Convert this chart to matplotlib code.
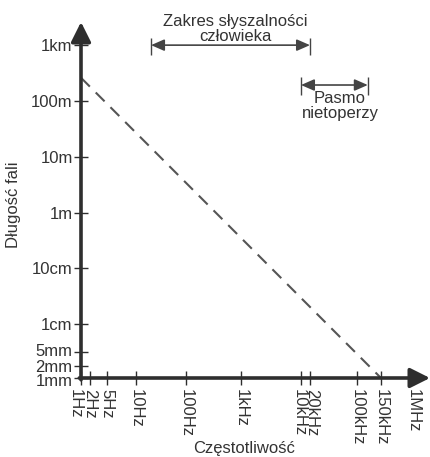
import numpy as np
import matplotlib
matplotlib.use("Agg")
import matplotlib.pyplot as plt
from matplotlib.transforms import ScaledTranslation

plt.rcParams["font.family"] = ["Liberation Sans", "DejaVu Sans"]
plt.rcParams["font.size"] = 12

# frequency axis [Hz]
freq_ticks = [1, 2, 5, 10, 100, 1e3, 1e4, 2e4, 1e5, 1.5e5, 1e6]
freq_labels = ["1Hz", "2Hz", "5Hz", "10Hz", "100Hz", "1kHz",
               "10kHz", "20kHz", "100kHz", "150kHz", "1MHz"]

# wavelength axis [m]
wl_ticks = [1e-3, 2e-3, 5e-3, 1e-2, 1e-1, 1, 10, 100, 1000]
wl_labels = ["1mm", "2mm", "5mm", "1cm", "10cm", "1m", "10m", "100m", "1km"]

# dashed line (sound in air)
line_freq = [1, 1.5e5]
line_wl = [260, 1e-3]

# ranges [Hz]
human_range = [20, 2e4]
bat_range = [1e4, 1.2e5]

AX = "#2e2e2e"
TXT = "#333333"

# the original is drawn by hand, decades are not evenly spaced:
# log10(value) -> pixels along the axis
X_CAL_LOG = [-1, 0, 0.301, 0.699, 1, 2, 3, 4, 4.301, 5, 5.176, 6, 7]
X_CAL_PX = [-55, 0, 9, 26, 55, 105, 160, 220, 229, 276, 300, 332, 390]
Y_CAL_LOG = [-4, -3, -2.699, -2.301, -2, -1, 0, 1, 2, 3, 4]
Y_CAL_PX = [-56, 0, 12, 26, 54, 110, 165, 221, 277, 333, 389]


def make_scale(logs, px):
    def fwd(v):
        v = np.asarray(v, dtype=float)
        return np.interp(np.log10(np.clip(v, 1e-12, None)), logs, px)

    def inv(p):
        return 10 ** np.interp(np.asarray(p, dtype=float), px, logs)
    return fwd, inv


xf, xi = make_scale(X_CAL_LOG, X_CAL_PX)
yf, yi = make_scale(Y_CAL_LOG, Y_CAL_PX)

fig = plt.figure(figsize=(4.31, 4.57), dpi=100)
ax = fig.add_axes([81 / 431, 79 / 457, 349 / 431, 356 / 457])
ax.set_xscale("function", functions=(xf, xi))
ax.set_yscale("function", functions=(yf, yi))
ax.set_xlim(xi(0), xi(349))
ax.set_ylim(yi(0), yi(356))

for s in ax.spines.values():
    s.set_visible(False)

ax.plot(line_freq, line_wl, color="#555555", lw=1.5, dashes=(6, 4))

# axes with arrow heads
arr = dict(arrowstyle="-|>,head_length=0.6,head_width=0.3", lw=2.6,
           color=AX, mutation_scale=20, shrinkA=0, shrinkB=0)
ax.annotate("", xy=(1, 0), xytext=(-0.005, 0), xycoords="axes fraction", arrowprops=arr)
ax.annotate("", xy=(0, 1), xytext=(0, -0.005), xycoords="axes fraction", arrowprops=arr)

ax.set_xticks(freq_ticks, freq_labels, rotation=-90)
ax.set_yticks(wl_ticks, wl_labels)
ax.minorticks_off()
ax.tick_params(direction="inout", length=10, width=1, color=AX, labelcolor=TXT)
ax.tick_params(axis="x", pad=3)
ax.tick_params(axis="y", pad=1)


def nudge(label, dx, dy):
    label.set_transform(label.get_transform()
                        + ScaledTranslation(dx / 100, dy / 100, fig.dpi_scale_trans))


xl = ax.get_xticklabels()
nudge(xl[0], -6, 0)   # 1Hz sits left of the corner
nudge(xl[6], -2, 0)
nudge(xl[7], 2, 0)
yl = ax.get_yticklabels()
nudge(yl[0], 0, -2)
nudge(yl[2], 0, 2)

# range arrows
tr = ax.get_xaxis_transform()
rng = dict(arrowstyle="<|-|>,head_length=0.8,head_width=0.35", lw=1.2,
           color="#444444", mutation_scale=10, shrinkA=0, shrinkB=0)
ax.annotate("", xy=(human_range[1], 0.935), xytext=(human_range[0], 0.935),
            xycoords=tr, arrowprops=rng)
ax.vlines(human_range, 0.907, 0.955, transform=tr, color="#444444", lw=1)
ax.annotate("", xy=(bat_range[1], 0.823), xytext=(bat_range[0], 0.823),
            xycoords=tr, arrowprops=rng)
ax.vlines(bat_range, 0.795, 0.845, transform=tr, color="#444444", lw=1)

fig.text(235 / 431, 1 - 29 / 457, "Zakres słyszalności\nczłowieka", ha="center",
         va="center", multialignment="center", linespacing=0.95, color=TXT)
fig.text(340 / 431, 1 - 106 / 457, "Pasmo\nnietoperzy", ha="center",
         va="center", multialignment="center", linespacing=1.0, color=TXT)

fig.text(14 / 431, 1 - 205 / 457, "Długość fali", rotation=90, ha="center",
         va="center", color=TXT)
fig.text(244 / 431, 1 - 448 / 457, "Częstotliwość", ha="center", va="center", color=TXT)

fig.savefig("out.png", dpi=100)
